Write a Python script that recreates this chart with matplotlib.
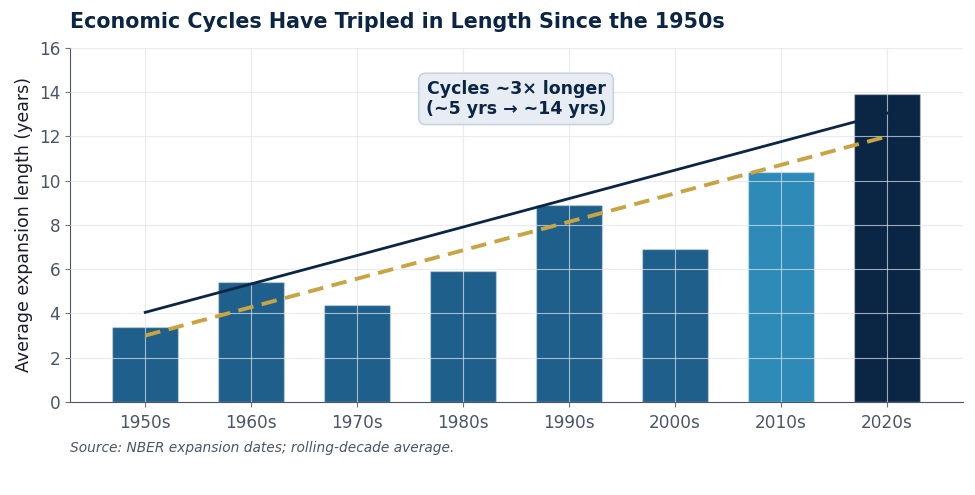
import matplotlib
matplotlib.use("Agg")
import matplotlib.pyplot as plt
import numpy as np

decades = ["1950s", "1960s", "1970s", "1980s", "1990s", "2000s", "2010s", "2020s"]
expansion_years = [3.4, 5.4, 4.4, 5.9, 8.9, 6.9, 10.4, 13.9]
bar_colors = ["#1f5f8b"] * 6 + ["#2e8bb8", "#0b2545"]
solid_trend_x = [0, 7]
solid_trend_y = [4.05, 13.05]
dashed_trend_x = [0, 7]
dashed_trend_y = [3.0, 12.0]

fig = plt.figure(figsize=(9.75, 4.95), dpi=100)
ax = fig.add_axes([0.0718, 0.188, 0.916, 0.715])

x = np.arange(len(decades))
ax.bar(x, expansion_years, width=0.62, color=bar_colors,
       edgecolor=(1, 1, 1, 0.35), linewidth=1.0, zorder=2)
ax.plot(solid_trend_x, solid_trend_y, color="#0b2545", linewidth=2.0, zorder=3)
ax.plot(dashed_trend_x, dashed_trend_y, color="#c9a441", linewidth=2.8,
        linestyle=(0, (4, 2.2)), zorder=3)

ax.grid(True, color="#dfe4ec", linewidth=0.8, alpha=0.7, zorder=4)
ax.set_axisbelow(False)

ax.set_xlim(-0.71, 7.72)
ax.set_ylim(0, 16)
ax.set_yticks(np.arange(0, 17, 2))
ax.set_xticks(x)
ax.set_xticklabels(decades)
ax.tick_params(axis="both", labelsize=12.2, colors="#6b7280", labelcolor="#4a5568")
ax.tick_params(axis="x", pad=5)
for s in ["top", "right"]:
    ax.spines[s].set_visible(False)
for s in ["left", "bottom"]:
    ax.spines[s].set_color("#4a5568")

ax.set_ylabel("Average expansion length (years)", fontsize=12.5, color="#1a1a2e")

ax.text(3.5, 13.7, "Cycles ~3× longer\n(~5 yrs → ~14 yrs)", ha="center", va="center",
        fontsize=12.5, fontweight="bold", color="#0b2545", zorder=6,
        linespacing=1.1,
        bbox=dict(boxstyle="round,pad=0.4", facecolor="#e8edf3",
                  edgecolor="#c8d3e0", linewidth=1.2))

fig.text(0.0718, 0.956, "Economic Cycles Have Tripled in Length Since the 1950s",
         fontsize=14.9, fontweight="bold", color="#0b2545", ha="left", va="center")
fig.text(0.0718, 0.095, "Source: NBER expansion dates; rolling-decade average.",
         fontsize=9.9, style="italic", color="#4a5568", ha="left", va="center")

fig.savefig("out.png", dpi=100)
